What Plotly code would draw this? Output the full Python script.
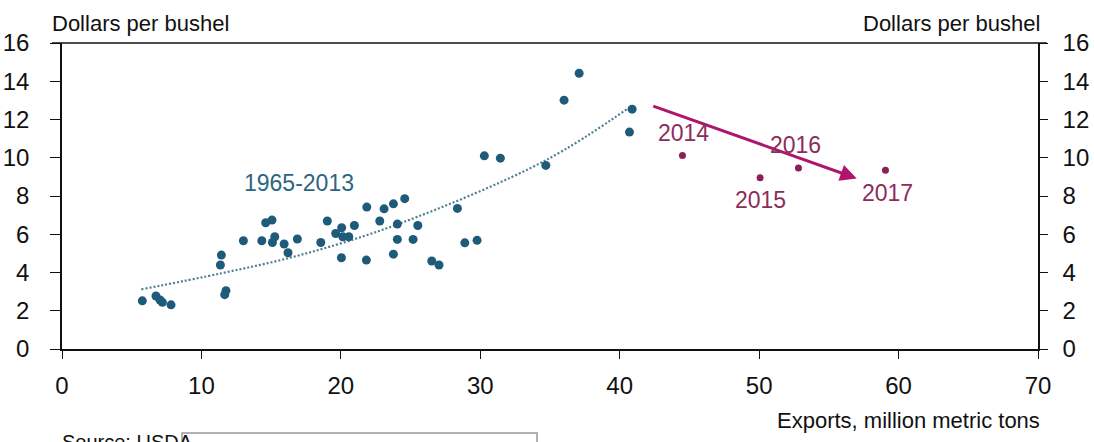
import plotly.graph_objects as go

# Wheat exports vs. price, 1965-2013 (teal) and 2014-2017 (purple)
hist_exports = [5.76, 6.74, 7.03, 7.20, 7.82, 11.43, 11.36, 11.76, 11.67, 13.01,
                14.33, 15.09, 15.26, 15.93, 16.21, 16.88, 14.61, 15.06, 19.03, 18.56,
                19.63, 20.06, 20.14, 20.57, 20.04, 20.97, 21.86, 21.83, 22.79, 23.10,
                23.77, 24.58, 24.05, 24.05, 23.77, 25.52, 25.18, 26.52, 27.04, 28.36,
                28.89, 29.77, 30.29, 31.44, 34.70, 36.01, 37.09, 40.89, 40.70]
hist_price = [2.52, 2.77, 2.56, 2.44, 2.31, 4.91, 4.39, 3.05, 2.84, 5.66,
              5.66, 5.57, 5.87, 5.49, 5.03, 5.75, 6.60, 6.74, 6.69, 5.57,
              6.04, 6.34, 5.87, 5.87, 4.77, 6.46, 7.42, 4.65, 6.69, 7.33,
              7.59, 7.86, 6.53, 5.73, 4.96, 6.46, 5.73, 4.60, 4.39, 7.35,
              5.55, 5.68, 10.10, 9.98, 9.60, 13.01, 14.42, 12.54, 11.34]

# Exponential trend through the historical cloud
trend_exports = [5.69, 11.43, 17.07, 24.25, 34.70, 40.75]
trend_price = [3.12, 3.96, 4.91, 6.57, 9.87, 12.66]

recent_years = ["2014", "2015", "2016", "2017"]
recent_exports = [44.50, 50.07, 52.82, 59.06]
recent_price = [10.12, 8.95, 9.47, 9.34]

x_ticks = [0, 10, 20, 30, 40, 50, 60, 70]
y_ticks = [0, 2, 4, 6, 8, 10, 12, 14, 16]

TEAL = "#1E5B7B"
TEAL_TXT = "#2D6582"
TREND = "#4F7F90"
PURPLE = "#8C1F55"
PURPLE_TXT = "#8B2D5A"
ARROW = "#B0156E"
FONT = "Liberation Sans, Arial, sans-serif"
TICKFONT = dict(family=FONT, size=24, color="#111")

fig = go.Figure()

fig.add_trace(go.Scatter(
    x=trend_exports, y=trend_price, mode="lines", line_shape="spline",
    line=dict(color=TREND, width=2.2, dash="2px,2px"), hoverinfo="skip"))

fig.add_trace(go.Scatter(
    x=hist_exports, y=hist_price, mode="markers",
    marker=dict(color=TEAL, size=9, line=dict(width=0))))

fig.add_trace(go.Scatter(
    x=recent_exports, y=recent_price, mode="markers",
    marker=dict(color=PURPLE, size=7, line=dict(width=0))))

# invisible trace so the right-hand axis is drawn
fig.add_trace(go.Scatter(x=[0], y=[0], yaxis="y2", mode="markers",
                         marker=dict(opacity=0), hoverinfo="skip"))

# direction arrow for 2014-2017
fig.add_annotation(x=57.0, y=8.92, ax=42.3, ay=12.73, xref="x", yref="y",
                   axref="x", ayref="y", showarrow=True, arrowhead=2,
                   arrowsize=1.1, arrowwidth=3, arrowcolor=ARROW, text="")

fig.add_annotation(x=17.0, y=8.67, text="1965-2013", showarrow=False,
                   font=dict(family=FONT, size=23, color=TEAL_TXT))

label_pos = {"2014": (44.55, 11.28), "2015": (50.07, 7.78),
             "2016": (52.58, 10.66), "2017": (59.18, 8.15)}
for yr in recent_years:
    lx, ly = label_pos[yr]
    fig.add_annotation(x=lx, y=ly, text=yr, showarrow=False,
                       font=dict(family=FONT, size=23, color=PURPLE_TXT))

# axis unit labels
fig.add_annotation(xref="paper", yref="paper", x=-0.0123, y=1.0,
                   xanchor="left", yanchor="bottom", yshift=5,
                   text="Dollars per bushel", showarrow=False,
                   font=dict(family=FONT, size=22, color="#111"))
fig.add_annotation(xref="paper", yref="paper", x=1.004, y=1.0,
                   xanchor="right", yanchor="bottom", yshift=5,
                   text="Dollars per bushel", showarrow=False,
                   font=dict(family=FONT, size=22, color="#111"))
fig.add_annotation(xref="paper", yref="paper", x=1.004, y=-0.235,
                   xanchor="right", yanchor="middle",
                   text="Exports, million metric tons", showarrow=False,
                   font=dict(family=FONT, size=22, color="#111"))
fig.add_annotation(xref="paper", yref="paper", x=-0.002, y=-0.262,
                   xanchor="left", yanchor="top",
                   text="Source: USDA", showarrow=False,
                   font=dict(family=FONT, size=20, color="#111"))

# note box beside the source line
fig.add_shape(type="rect", xref="paper", yref="paper",
              x0=0.123, x1=0.4867, y0=-0.2745, y1=-0.6,
              line=dict(color="#999", width=1.5), fillcolor="rgba(0,0,0,0)")

# top border
fig.add_shape(type="line", xref="paper", yref="paper",
              x0=-0.0103, x1=1.009, y0=1, y1=1,
              line=dict(color="#111", width=1.5))

fig.update_layout(
    width=1094, height=442,
    margin=dict(l=62, r=56, t=43, b=93, autoexpand=False),
    paper_bgcolor="white", plot_bgcolor="white",
    showlegend=False,
    xaxis=dict(range=[0, 70], tickvals=x_ticks, showgrid=False, zeroline=False,
               showline=True, linecolor="#111", linewidth=1.5, automargin=False,
               ticks="outside", ticklen=8, tickcolor="#111", tickwidth=1.2,
               tickfont=TICKFONT, ticklabelstandoff=6),
    yaxis=dict(range=[0, 16], tickvals=y_ticks, showgrid=False, zeroline=False,
               showline=True, linecolor="#111", linewidth=1.5, automargin=False,
               ticks="outside", ticklen=10, tickcolor="#111", tickwidth=1.2,
               tickfont=TICKFONT, ticklabelstandoff=16),
    yaxis2=dict(range=[0, 16], tickvals=y_ticks, overlaying="y", side="right",
                showgrid=False, zeroline=False, automargin=False,
                showline=True, linecolor="#111", linewidth=1.5,
                ticks="outside", ticklen=8, tickcolor="#111", tickwidth=1.2,
                tickfont=TICKFONT, ticklabelstandoff=10),
)

fig.write_html("out.html")
